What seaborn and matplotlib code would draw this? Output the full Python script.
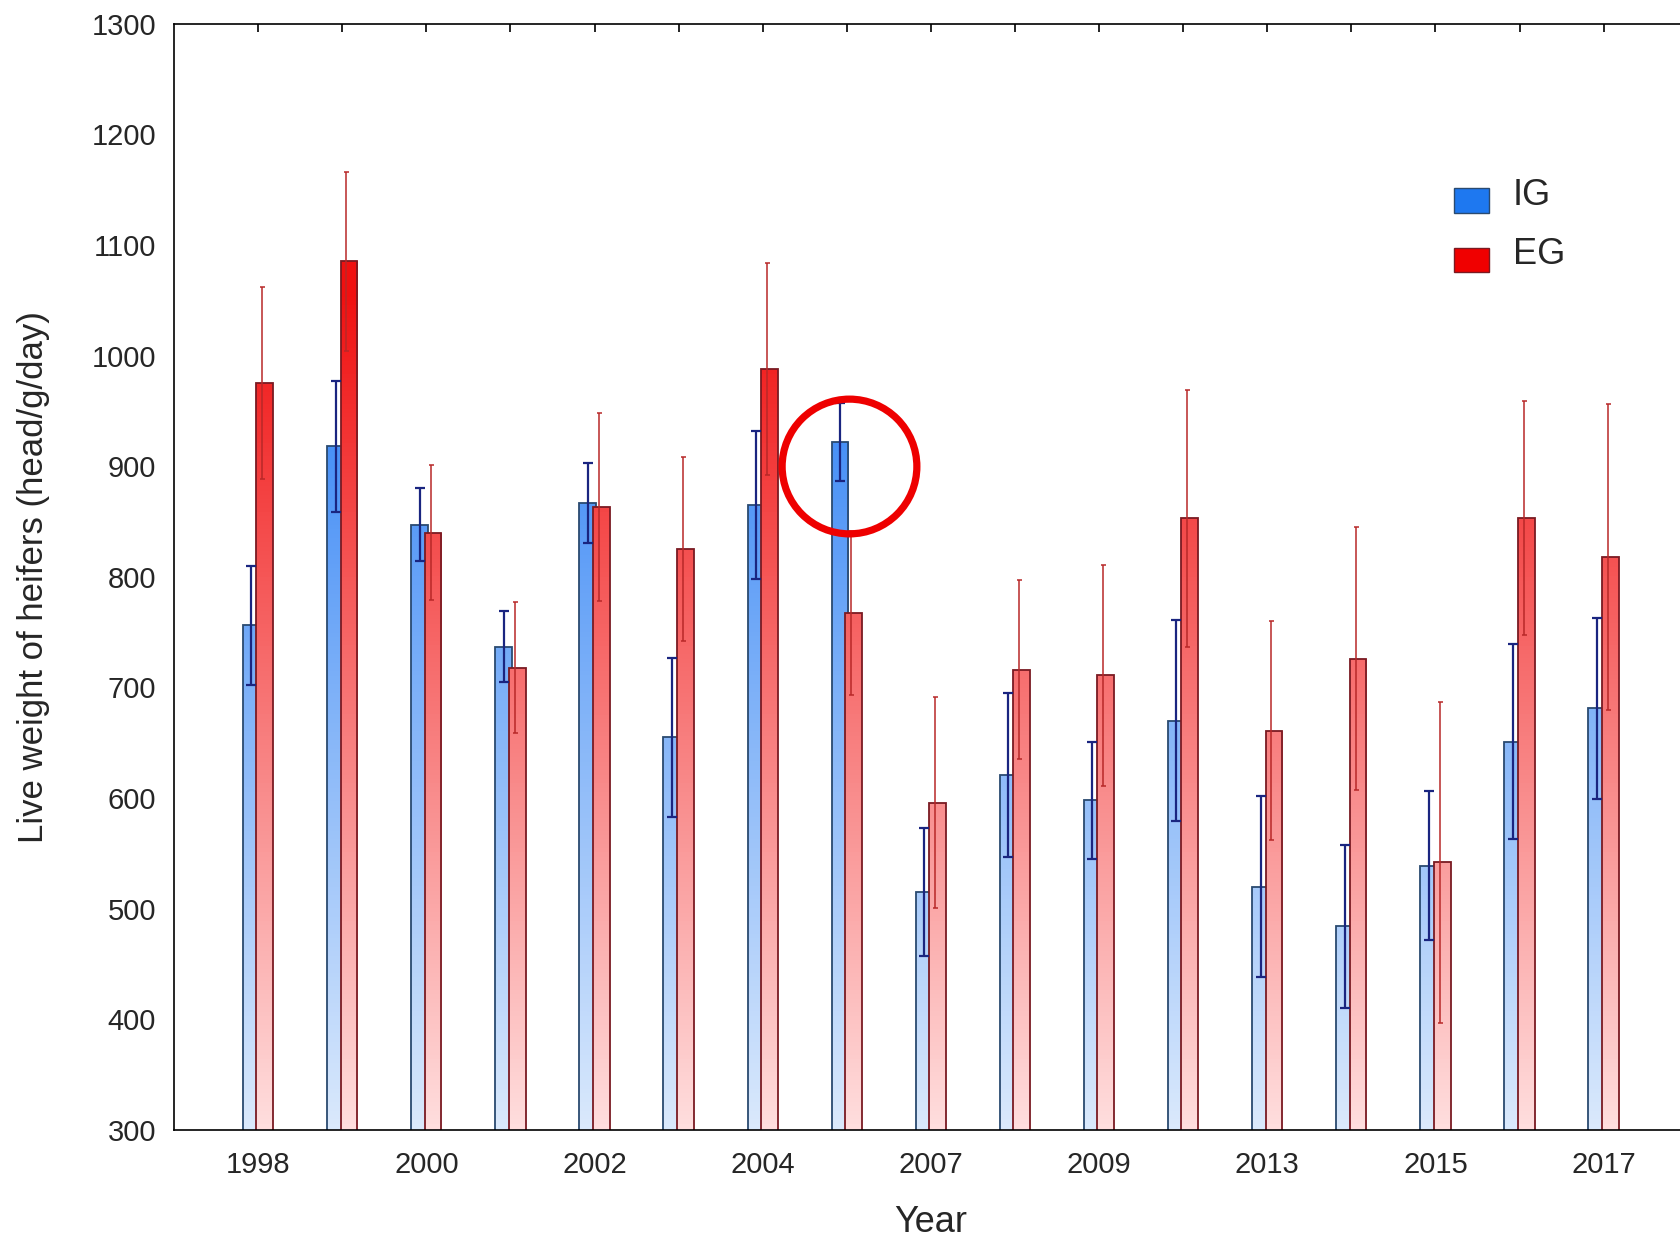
import numpy as np
import pandas as pd
import matplotlib
matplotlib.use('Agg')
import matplotlib.pyplot as plt
import seaborn as sns
from matplotlib.colors import LinearSegmentedColormap
from matplotlib.patches import Patch
from matplotlib.legend_handler import HandlerPatch

# ── DATA ─────────────────────────────────────────────────────────────────
years = ['1998', '1999', '2000', '2001', '2002', '2003', '2004', '2005', '2007',
         '2008', '2009', '2011', '2013', '2014', '2015', '2016', '2017']
ig = [756, 918, 847, 737, 867, 655, 865, 922, 515, 621, 598, 670, 520, 484, 539, 651, 681]
ig_err = [54, 59, 33, 32, 36, 72, 67, 35, 58, 74, 53, 91, 82, 74, 67, 88, 82]
eg = [975, 1085, 840, 718, 863, 825, 988, 767, 596, 716, 711, 853, 661, 726, 542, 853, 818]
eg_err = [87, 81, 61, 59, 85, 83, 96, 74, 95, 81, 100, 116, 99, 119, 145, 106, 138]
groups = ['IG', 'EG']

df = pd.DataFrame({
    'Year': years * 2,
    'value': ig + eg,
    'err': ig_err + eg_err,
    'group': ['IG'] * len(years) + ['EG'] * len(years),
})

# ── STYLE ─────────────────────────────────────────────────────────────────
sns.set_style('white')
plt.rcParams['font.family'] = ['Liberation Sans', 'DejaVu Sans']
txt = '#262626'

legend_cols = {'IG': '#1e78f0', 'EG': '#f00000'}
edge_cols = {'IG': '#2a4a70', 'EG': '#7a1a22'}
err_cols = {'IG': '#1a2580', 'EG': '#b82828'}
ylo, yhi = 300, 1300
top_frac = (1060 - ylo) / (yhi - ylo)   # where the gradient reaches full colour
grad_cmaps = {
    'IG': LinearSegmentedColormap.from_list(
        'ig', [(0, '#dae9fc'), (top_frac, '#287df5'), (1, '#287df5')]),
    'EG': LinearSegmentedColormap.from_list(
        'eg', [(0, '#ffdede'), (top_frac, '#f01010'), (1, '#f01010')]),
}


class LowPatch(HandlerPatch):
    # legend swatch sits a little below the label, as in the original
    def create_artists(self, legend, orig_handle, xdescent, ydescent,
                       width, height, fontsize, trans):
        return super().create_artists(legend, orig_handle, xdescent, ydescent + 6,
                                      width, height, fontsize, trans)


fig = plt.figure(figsize=(16.8, 12.37), dpi=100)
ax = fig.add_axes([0.1036, 0.0865, 0.901, 0.8944])

sns.barplot(data=df, x='Year', y='value', hue='group', hue_order=groups,
            palette=legend_cols, width=0.32, dodge=True, errorbar=None,
            legend=False, ax=ax)

ax.set_xlim(-1, len(years))
ax.set_ylim(ylo, yhi)

# ── GRADIENT BARS + ERROR BARS ────────────────────────────────────────────
grad = np.linspace(0, 1, 256).reshape(-1, 1)
z = 1.0
for g, cont in zip(groups, ax.containers):
    sub = df[df['group'] == g]
    xs = []
    for bar in cont:
        cx = bar.get_x() + bar.get_width() / 2
        xs.append(cx)
        bar.set_x(cx - 0.1)
        bar.set_width(0.2)
        bar.set_facecolor('none')
        bar.set_edgecolor(edge_cols[g])
        bar.set_linewidth(1.3)
        bar.set_zorder(z + 0.1)
        im = ax.imshow(grad, cmap=grad_cmaps[g], origin='lower', aspect='auto',
                       extent=(-1, len(years), ylo, yhi), zorder=z,
                       interpolation='bilinear')
        im.set_clip_path(bar)
    z += 0.2
    if g == 'IG':
        ax.errorbar(xs, sub['value'], yerr=sub['err'], fmt='none',
                    ecolor=err_cols[g], elinewidth=1.6, capsize=3.5,
                    capthick=1.6, zorder=3)
    else:
        ax.errorbar(np.array(xs) - 0.03, sub['value'], yerr=sub['err'], fmt='none',
                    ecolor=err_cols[g], elinewidth=1.1, capsize=1.8,
                    capthick=1.1, zorder=3)

ax.set_xlim(-1, len(years))
ax.set_ylim(ylo, yhi)

# highlight circle around the 2005 IG bar
ax.plot(years.index('2005') + 0.03, 900, marker='o', ms=97, mfc='none', mec='#ee0000',
        mew=5.2, zorder=5, clip_on=False)

# ── AXES ──────────────────────────────────────────────────────────────────
ax.set_yticks(np.arange(ylo, yhi + 1, 100))
ax.set_xticks(range(len(years)))
ax.set_xticklabels([y if i % 2 == 0 else '' for i, y in enumerate(years)])
ax.tick_params(axis='x', direction='in', length=6, width=1.2, top=True,
               pad=15, labelsize=21, labelcolor=txt, color='black')
ax.tick_params(axis='y', direction='in', length=6, width=1.2, right=True,
               pad=13, labelsize=21, labelcolor=txt, color='black')
for s in ax.spines.values():
    s.set_color('black')
    s.set_linewidth(1.2)

ax.set_xlabel('Year', fontsize=26, color=txt)
ax.set_ylabel('Live weight of heifers (head/g/day)', fontsize=25, color=txt)
ax.xaxis.set_label_coords(0.5, -0.068)
ax.yaxis.set_label_coords(-0.082, 0.5)

handles = [Patch(facecolor=legend_cols[g], edgecolor=edge_cols[g], label=g)
           for g in groups]
ax.legend(handles=handles, loc='upper left', bbox_to_anchor=(1436 / 1680, 1 - 160 / 1237),
          bbox_transform=fig.transFigure, frameon=False, fontsize=26, borderpad=0,
          handlelength=0.97, handleheight=0.67, handletextpad=0.65,
          labelspacing=0.67, labelcolor=txt, handler_map={Patch: LowPatch()})

fig.savefig('out.png', dpi=100)
